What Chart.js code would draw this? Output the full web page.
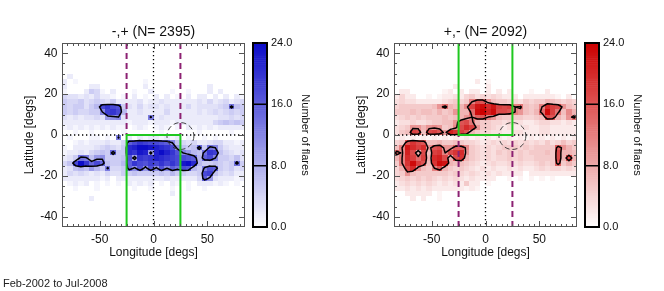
<!DOCTYPE html>
<html>
<head>
<meta charset="utf-8">
<script src="https://cdn.jsdelivr.net/npm/chart.js@4.4.0/dist/chart.umd.min.js"></script>
<style>
  body { margin: 0; background: #fff; width: 664px; height: 291px; position: relative; overflow: hidden; }
  canvas { position: absolute; top: 0; }
  #panel-mp { left: 0; }
  #panel-pm { left: 332px; }
  #periodo { position: absolute; left: 3px; top: 277px; font: 11px "Liberation Sans", Arial, sans-serif; color: #222; }
</style>
</head>
<body>
<canvas id="panel-mp" width="332" height="291"></canvas>
<canvas id="panel-pm" width="332" height="291"></canvas>
<div id="periodo">Feb-2002 to Jul-2008</div>
<script>
// bins: 5 deg in longitude (-85..85), 2.5 deg in latitude (45..-45, top row first)
const lonStart = -85, lonStep = 5, lonCount = 34;
const latStart = 45, latStep = -2.5, latCount = 36;
const lonTicks = [-50, 0, 50];
const latTicks = [-40, -20, 0, 20, 40];
const flareTicks = [0, 8, 16, 24];
const flareMax = 24;
const contourLevel = 12;
const boxLon = 25;

const titleMinusPlus = '-,+ (N= 2395)';
const titlePlusMinus = '+,- (N= 2092)';

// one string per latitude row, one char per longitude bin: '.'=0, 1-9, a=10 ... o=24
const countsMinusPlus = [
  '', '', '', '', '', '',
  '.2... ..... ..... ..... ..... ..... ....',
  '2.1.. ..... ..... 1.... ..... ..... ....',
  '2.... 22... ..... 2.... ..... ..2.. ....',
  '1...2 541.2 ...1. .2... 1..1. ..2.2 ....',
  '43323 24221 .1.2. 1.2.2 .1.2. 22.2. 2.21',
  '54453 45435 22223 12232 22222 32423 4234',
  '54553 57iki h5324 23323 22242 33334 5e65',
  '54544 55cjk i7223 22224 22222 32343 4545',
  '32323 343ab c3222 2d232 22222 22223 3434',
  '22222 22222 22122 21222 12222 22245 6565',
  '12121 21212 11.12 1.121 .1.21 21212 2222',
  '..1.. 1.... .1... ...1. ..... 1.... .1..',
  '.1... 11.1. d.2.2 12212 12.1. .1.1. ....',
  '..121 22232 24gik jiihg c6434 22344 2212',
  '1.222 23454 35lmo onmlk ia656 f5ec5 3222',
  '12232 4565f 55lkn mamom khca7 6ekj6 4323',
  '235ed 6ab55 56h9k jkmlk jiihg 7gic5 5463',
  '46iok fif65 57gki hjiki kinol 75565 45e5',
  '23676 a75d4 45fbh ahbhc geih7 5dhg5 4534',
  '24343 23243 35565 55565 75544 5ij64 3422',
  '22222 2212. 22222 22223 22222 4ga32 2212',
  '.1212 .1.1. 1.212 12.1. 21.1. 22212 1.1.',
  '..1.. .1... ...1. .1... 1..1. .1... ....',
  '..... ..... ..... ..... 2.... ..... ....',
  '..... 2.... ..... ..... ..... ..... ....',
  '', '', '', '', ''
];

const countsPlusMinus = [
  '', '', '', '', '', '', '',
  '..... ..... ..... 2.1.. ..... ..... ....',
  '..... ..... .2... ..2.. ..... ..... ....',
  '.22.. ....1 2.2.2 2.2.2 .2... 1..2. ....',
  '2422. .1.12 23245 34343 222.2 22222 1.2.',
  '34332 22223 4545c hga65 54435 45576 5454',
  '45555 556ae 767bi mnkmi hicd6 56cki ha65',
  '55565 66575 6a77e nolnh hgca6 57eni d6b7',
  '34545 45556 567ac fgca6 55554 456hg 75ae',
  '23343 34556 6aghd 75544 34332 23443 3232',
  '345aa 7aba5 6bhki a5543 23223 22332 2222',
  '356ih 6higa ljig7 54433 22332 22332 2222',
  '12121 21212 12121 21212 12121 21212 1212',
  '45gjh g6675 56544 32343 43434 34353 4645',
  '6cmki kagha affb5 43434 55545 45555 fa75',
  'fblh7 h6ijc hjka5 43435 45454 55565 h776',
  '7ckie i7klh 7hj75 43434 45454 45555 h7i7',
  '5cjni g6jnm 76654 32343 34343 34545 f575',
  '47hka 65cg7 54543 23232 23232 23434 4343',
  '45a65 55555 45434 32323 2222. 22222 2222',
  '34545 45434 34323 2222. .1.1. 1.1.1 ....',
  '23434 34323 23252 2.1.. ..... ..... ....',
  '22323 23222 22212 1.... ..... ..... ....',
  '..222 22.1. ..... ..... ..... ..... ....',
  '...2. 2..1. ..... ..... ..... ..... ....',
  '', '', '', '', ''
];

const fontFamily = '"Liberation Sans", Arial, Helvetica, sans-serif';
Chart.defaults.font.family = fontFamily;
Chart.defaults.color = '#111';

function decodeGrid(rows) {
  const grid = [];
  for (let j = 0; j < latCount; j++) {
    const s = (rows[j] || '').replace(/ /g, '').padEnd(lonCount, '.');
    const row = [];
    for (let i = 0; i < lonCount; i++) {
      const ch = s[i];
      row.push(ch === '.' ? 0 : parseInt(ch, 36));
    }
    grid.push(row);
  }
  return grid;
}

function shade(rgb, v) {
  const t = Math.max(0, Math.min(v / flareMax, 1));
  const c = rgb.map((x) => Math.round(255 + (x - 255) * t));
  return `rgb(${c[0]},${c[1]},${c[2]})`;
}

// marching squares over bin centres, grid padded with zeros
function contourSegments(grid, level) {
  const val = (i, j) => (i < 0 || j < 0 || i >= lonCount || j >= latCount) ? 0 : grid[j][i];
  const lonAt = (i) => lonStart + (i + 0.5) * lonStep;
  const latAt = (j) => latStart + (j + 0.5) * latStep;
  const segs = [];
  for (let j = -1; j < latCount; j++) {
    for (let i = -1; i < lonCount; i++) {
      const a = val(i, j), b = val(i + 1, j), c = val(i + 1, j + 1), d = val(i, j + 1);
      const k = (a > level ? 8 : 0) | (b > level ? 4 : 0) | (c > level ? 2 : 0) | (d > level ? 1 : 0);
      if (k === 0 || k === 15) continue;
      const f = (p, q) => (level - p) / (q - p);
      const T = [lonAt(i) + f(a, b) * lonStep, latAt(j)];
      const R = [lonAt(i + 1), latAt(j) + f(b, c) * latStep];
      const B = [lonAt(i) + f(d, c) * lonStep, latAt(j + 1)];
      const L = [lonAt(i), latAt(j) + f(a, d) * latStep];
      const mid = (a + b + c + d) / 4 > level;
      switch (k) {
        case 1: case 14: segs.push([L, B]); break;
        case 2: case 13: segs.push([B, R]); break;
        case 3: case 12: segs.push([L, R]); break;
        case 4: case 11: segs.push([T, R]); break;
        case 6: case 9: segs.push([T, B]); break;
        case 7: case 8: segs.push([L, T]); break;
        case 5: if (mid) segs.push([L, T], [B, R]); else segs.push([T, R], [L, B]); break;
        case 10: if (mid) segs.push([T, R], [L, B]); else segs.push([L, T], [B, R]); break;
      }
    }
  }
  return segs;
}

function heatPlugin(panel) {
  const grid = decodeGrid(panel.rows);
  const segs = contourSegments(grid, contourLevel);
  return {
    id: 'heat',
    beforeDatasetsDraw(chart) {
      const { ctx, chartArea: ca, scales: { x, y } } = chart;
      ctx.save();
      ctx.beginPath();
      ctx.rect(ca.left, ca.top, ca.right - ca.left, ca.bottom - ca.top);
      ctx.clip();
      for (let j = 0; j < latCount; j++) {
        for (let i = 0; i < lonCount; i++) {
          const v = grid[j][i];
          if (!v) continue;
          const x0 = Math.round(x.getPixelForValue(lonStart + i * lonStep));
          const x1 = Math.round(x.getPixelForValue(lonStart + (i + 1) * lonStep));
          const y0 = Math.round(y.getPixelForValue(latStart + j * latStep));
          const y1 = Math.round(y.getPixelForValue(latStart + (j + 1) * latStep));
          ctx.fillStyle = shade(panel.rgb, v);
          ctx.fillRect(x0, y0, x1 - x0, y1 - y0);
        }
      }
      // contours
      ctx.strokeStyle = '#000';
      ctx.lineWidth = 1.5;
      ctx.lineCap = 'round';
      ctx.beginPath();
      segs.forEach(([p, q]) => {
        ctx.moveTo(x.getPixelForValue(p[0]), y.getPixelForValue(p[1]));
        ctx.lineTo(x.getPixelForValue(q[0]), y.getPixelForValue(q[1]));
      });
      ctx.stroke();

      const line = (lon0, lat0, lon1, lat1) => {
        ctx.beginPath();
        ctx.moveTo(x.getPixelForValue(lon0), y.getPixelForValue(lat0));
        ctx.lineTo(x.getPixelForValue(lon1), y.getPixelForValue(lat1));
        ctx.stroke();
      };
      // dotted axes through zero
      ctx.strokeStyle = '#000';
      ctx.lineWidth = 1.3;
      ctx.lineCap = 'butt';
      ctx.setLineDash([1.3, 2.7]);
      line(0, latStart, 0, -latStart);
      line(lonStart, 0, -lonStart, 0);
      // dashed circle
      ctx.lineWidth = 0.9;
      ctx.strokeStyle = '#333';
      ctx.setLineDash([5, 3]);
      ctx.beginPath();
      const r = x.getPixelForValue(12.5) - x.getPixelForValue(0);
      ctx.arc(x.getPixelForValue(boxLon), y.getPixelForValue(-0.5), r, 0, Math.PI * 2);
      ctx.stroke();
      // purple dashed
      const s = panel.side;
      ctx.strokeStyle = '#8c2172';
      ctx.lineWidth = 2;
      ctx.setLineDash([6, 4]);
      line(-boxLon, -s * latStart, -boxLon, 0);
      line(boxLon, -s * latStart, boxLon, 0);
      // green box
      ctx.setLineDash([]);
      ctx.strokeStyle = '#1fc81f';
      ctx.lineWidth = 2;
      ctx.beginPath();
      ctx.moveTo(x.getPixelForValue(-boxLon), y.getPixelForValue(s * latStart));
      ctx.lineTo(x.getPixelForValue(-boxLon), y.getPixelForValue(0));
      ctx.lineTo(x.getPixelForValue(boxLon), y.getPixelForValue(0));
      ctx.lineTo(x.getPixelForValue(boxLon), y.getPixelForValue(s * latStart));
      ctx.stroke();
      ctx.restore();
    },
    afterDatasetsDraw(chart) {
      const { ctx, chartArea: ca, scales: { x, y, cb } } = chart;
      ctx.save();
      // frame + inward ticks
      ctx.strokeStyle = '#555';
      ctx.lineWidth = 1;
      ctx.strokeRect(ca.left + 0.5, ca.top + 0.5, ca.right - ca.left - 1, ca.bottom - ca.top - 1);
      ctx.beginPath();
      for (let lat = -40; lat <= 40; lat += 5) {
        const py = Math.round(y.getPixelForValue(lat)) + 0.5;
        const len = latTicks.includes(lat) ? 6 : 3;
        ctx.moveTo(ca.left, py); ctx.lineTo(ca.left + len, py);
        ctx.moveTo(ca.right, py); ctx.lineTo(ca.right - len, py);
      }
      for (let lon = -80; lon <= 80; lon += 5) {
        const px = Math.round(x.getPixelForValue(lon)) + 0.5;
        const len = lonTicks.includes(lon) ? 6 : 3;
        ctx.moveTo(px, ca.bottom); ctx.lineTo(px, ca.bottom - len);
        ctx.moveTo(px, ca.top); ctx.lineTo(px, ca.top + len);
      }
      ctx.stroke();

      // colour bar
      const bx = ca.right + 8, bw = 14;
      const step = 0.25;
      for (let v = 0; v < flareMax; v += step) {
        const y0 = cb.getPixelForValue(v + step), y1 = cb.getPixelForValue(v);
        ctx.fillStyle = shade(panel.rgb, v + step / 2);
        ctx.fillRect(bx, y0, bw, y1 - y0 + 0.5);
      }
      ctx.strokeStyle = '#000';
      ctx.lineWidth = 1.5;
      ctx.beginPath();
      [8, 16].forEach((v) => {
        const py = cb.getPixelForValue(v);
        ctx.moveTo(bx, py); ctx.lineTo(bx + bw, py);
      });
      ctx.stroke();
      ctx.lineWidth = 2;
      const top = cb.getPixelForValue(flareMax), bot = cb.getPixelForValue(0);
      ctx.strokeRect(bx, top, bw, bot - top);

      // panel title
      ctx.fillStyle = '#111';
      ctx.font = `14px ${fontFamily}`;
      ctx.textAlign = 'center';
      ctx.textBaseline = 'middle';
      ctx.fillText(panel.title, (ca.left + ca.right) / 2, 32);
      ctx.restore();
    }
  };
}

function makePanel(id, panel) {
  const tickFont = { size: 12 };
  return new Chart(document.getElementById(id), {
    type: 'scatter',
    data: { datasets: [] },
    options: {
      responsive: false,
      animation: false,
      events: [],
      layout: { padding: { top: 43, right: 0, bottom: 31, left: 0 } },
      plugins: { legend: { display: false }, tooltip: { enabled: false } },
      scales: {
        x: {
          type: 'linear', min: lonStart, max: -lonStart,
          afterBuildTicks: (s) => { s.ticks = lonTicks.map((v) => ({ value: v })); },
          afterFit: (s) => { s.height = 33; },
          grid: { display: false, drawTicks: false }, border: { display: false },
          ticks: { font: tickFont, padding: 5, maxRotation: 0, callback: (v) => String(v) },
          title: { display: true, text: 'Longitude [degs]', font: tickFont, padding: 0 }
        },
        y: {
          type: 'linear', min: -latStart, max: latStart,
          afterBuildTicks: (s) => { s.ticks = latTicks.map((v) => ({ value: v })); },
          afterFit: (s) => { s.width = 62; },
          grid: { display: false, drawTicks: false }, border: { display: false },
          ticks: { font: tickFont, padding: 4.5, callback: (v) => String(v) },
          title: { display: true, text: 'Latitude [degs]', font: tickFont, padding: { top: 22, bottom: 0 } }
        },
        cb: {
          type: 'linear', position: 'right', min: 0, max: flareMax,
          afterBuildTicks: (s) => { s.ticks = flareTicks.map((v) => ({ value: v })); },
          afterFit: (s) => { s.width = 87; },
          grid: { display: false, drawOnChartArea: false, drawTicks: false }, border: { display: false },
          ticks: { font: { size: 11 }, padding: 26, callback: (v) => v.toFixed(1) },
          title: { display: true, text: 'Number of flares', font: { size: 11 }, padding: { top: 20, bottom: 0 } }
        }
      }
    },
    plugins: [heatPlugin(panel)]
  });
}

makePanel('panel-mp', { rows: countsMinusPlus, rgb: [12, 12, 200], title: titleMinusPlus, side: -1 });
makePanel('panel-pm', { rows: countsPlusMinus, rgb: [204, 0, 0], title: titlePlusMinus, side: 1 });
</script>
</body>
</html>
